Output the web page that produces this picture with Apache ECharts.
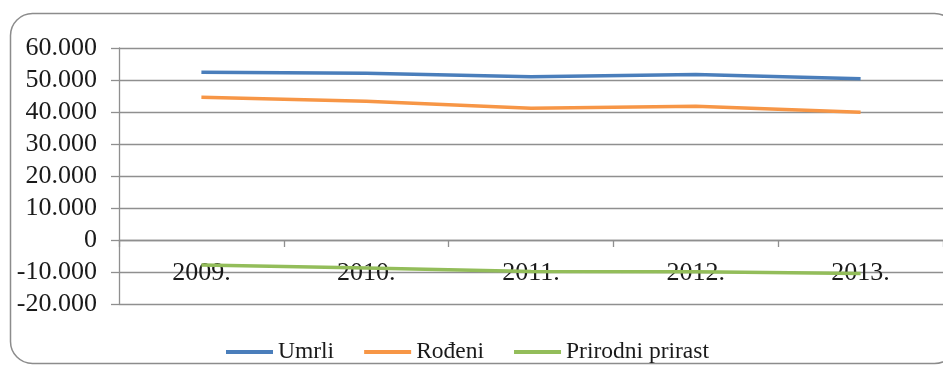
<!DOCTYPE html>
<html>
<head>
<meta charset="utf-8">
<script src="https://cdn.jsdelivr.net/npm/echarts@6/dist/echarts.min.js"></script>
<style>
  html, body { margin: 0; padding: 0; background: #fff; }
  #chart { width: 943px; height: 365px; }
</style>
</head>
<body>
<div id="chart"></div>
<script>
const years = ["2009.", "2010.", "2011.", "2012.", "2013."]
const umrli = [52414, 52096, 51019, 51710, 50386]
const rodeni = [44577, 43361, 41197, 41771, 39939]
const prirodniPrirast = [-7837, -8735, -9822, -9939, -10447]

const serif = "'Liberation Serif', 'DejaVu Serif', serif"
const gridColor = "#8f8f8f"

// 60000 -> "60.000"
const fmt = (v) => {
  if (v === 0) return "0"
  const s = Math.abs(v).toString().replace(/\B(?=(\d{3})+(?!\d))/g, ".")
  return (v < 0 ? "-" : "") + s
}

const chart = echarts.init(document.getElementById("chart"))
chart.setOption({
  animation: false,
  color: ["#4a7ebb", "#f79646", "#93bd5a"],
  graphic: [
    {
      type: "rect",
      shape: { x: 10.5, y: 13.5, width: 946, height: 350, r: 22 },
      style: { fill: "none", stroke: "#8c8c8c", lineWidth: 1.5 },
      z: -1
    },
    {
      type: "text",
      left: 515,
      top: -4,
      style: { text: "ˇ", font: "20px " + serif, fill: "#222" }
    }
  ],
  grid: { left: 119, right: -11, top: 48, height: 256 },
  legend: {
    left: 221,
    top: 335,
    icon: "rect",
    itemWidth: 47,
    itemHeight: 4,
    itemGap: 30,
    textStyle: { fontFamily: serif, fontSize: 23.5, color: "#1a1a1a" },
    data: ["Umrli", "Rođeni", "Prirodni prirast"]
  },
  xAxis: {
    type: "category",
    data: years,
    position: "bottom",
    offset: -64,
    boundaryGap: true,
    axisLine: { onZero: false, lineStyle: { color: gridColor, width: 1.3 } },
    axisTick: { show: true, length: 7, lineStyle: { color: gridColor, width: 1.3 } },
    axisLabel: { fontFamily: serif, fontSize: 26, color: "#1a1a1a", margin: 20 },
    splitLine: { show: false }
  },
  yAxis: {
    type: "value",
    min: -20000,
    max: 60000,
    interval: 10000,
    axisLine: { show: true, lineStyle: { color: gridColor, width: 1.3 } },
    axisTick: { show: true, length: 8, lineStyle: { color: gridColor, width: 1.3 } },
    axisLabel: { fontFamily: serif, fontSize: 26, color: "#1a1a1a", margin: 22, formatter: fmt },
    splitLine: { show: true, lineStyle: { color: gridColor, width: 1.3 } }
  },
  series: [
    { name: "Umrli", type: "line", data: umrli, symbol: "none", lineStyle: { width: 3.5 } },
    { name: "Rođeni", type: "line", data: rodeni, symbol: "none", lineStyle: { width: 3.5 } },
    { name: "Prirodni prirast", type: "line", data: prirodniPrirast, symbol: "none", lineStyle: { width: 3.5 }, z: 1 }
  ]
})
</script>
</body>
</html>
